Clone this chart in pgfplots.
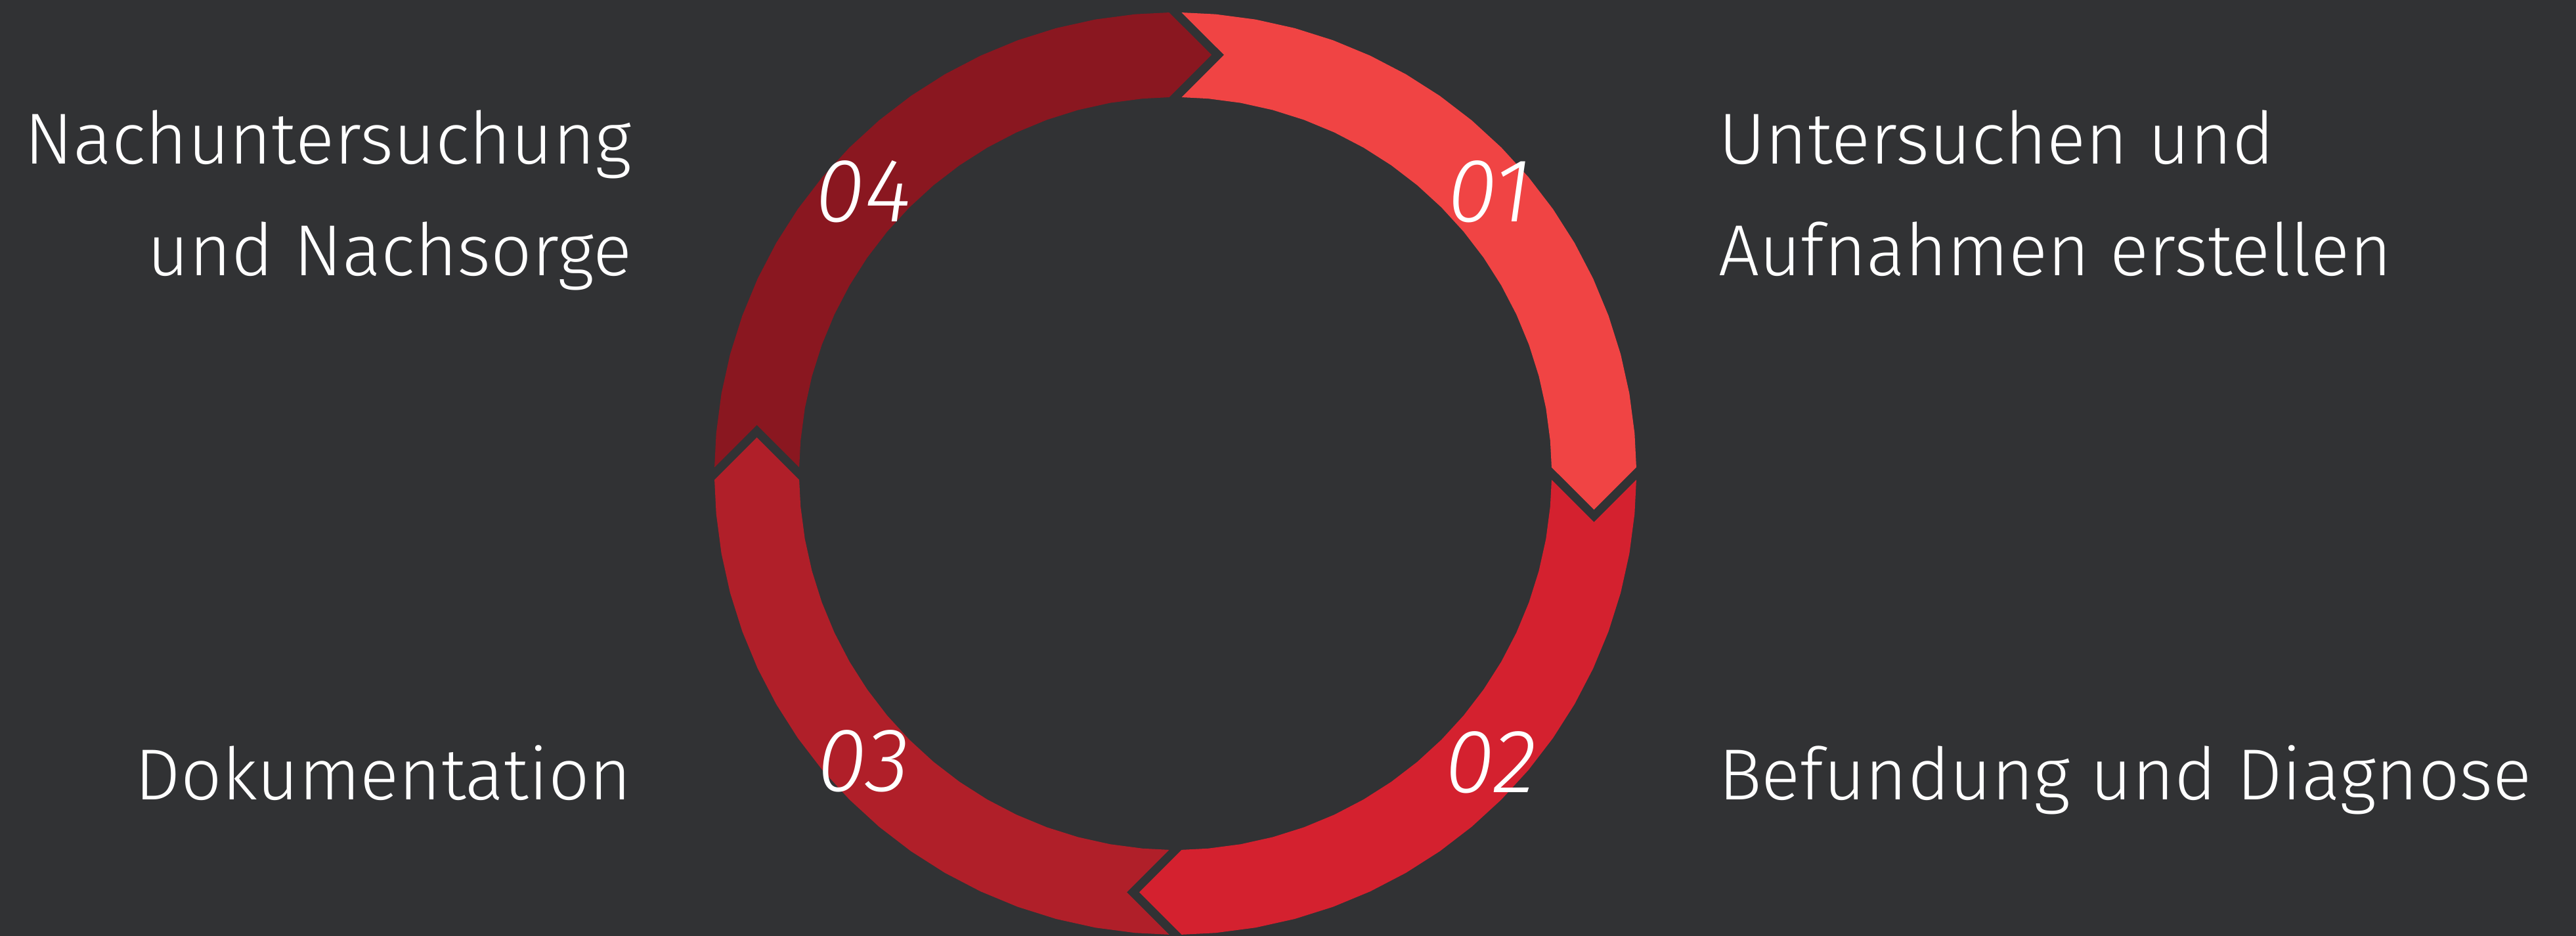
\documentclass[border=0pt]{standalone}
\usepackage{pgfplots}
\usepackage{pgfplotstable}
\pgfplotsset{compat=1.18}
\usepackage{fontspec}
\setmainfont{Fira Sans Light}[ItalicFont={Fira Sans Light Italic}]
\definecolor{bg}{RGB}{49,50,52}
\definecolor{cA}{RGB}{240,68,68}
\definecolor{cB}{RGB}{212,33,47}
\definecolor{cC}{RGB}{176,31,41}
\definecolor{cD}{RGB}{138,23,32}

% one ring segment (step 01: tail at 90 deg, head at 0 deg), polar: angle a, radius r
\pgfplotstableread{
a r
89.225 702
85 702
80 702
75 702
70 702
65 702
60 702
55 702
50 702
45 702
40 702
35 702
30 702
25 702
20 702
15 702
10 702
5 702
0.775 702
-4.931 639.87
0.950 573
5 573
10 573
15 573
20 573
25 573
30 573
35 573
40 573
45 573
50 573
55 573
60 573
65 573
70 573
75 573
80 573
85 573
89.05 573
83.379 641.78
}\seg

\newcommand{\lab}{\fontsize{22bp}{26bp}\selectfont}
\newcommand{\num}{\fontsize{27.5bp}{30bp}\selectfont\itshape}

\begin{document}
\begin{tikzpicture}
\begin{axis}[
  scale only axis, width=784.6bp, height=285bp,
  xmin=-1790, xmax=2133, ymin=-704, ymax=721,
  hide axis, no markers,
]
\addplot[draw=none, fill=bg] coordinates {(-1790,-704) (2133,-704) (2133,721) (-1790,721)};
\addplot[draw=none, fill=cA] table[x expr={\thisrow{r}*cos(\thisrow{a})}, y expr={\thisrow{r}*sin(\thisrow{a})}] {\seg};
\addplot[draw=none, fill=cB] table[x expr={\thisrow{r}*cos(\thisrow{a}-90)}, y expr={\thisrow{r}*sin(\thisrow{a}-90)}] {\seg};
\addplot[draw=none, fill=cC] table[x expr={\thisrow{r}*cos(\thisrow{a}-180)}, y expr={\thisrow{r}*sin(\thisrow{a}-180)}] {\seg};
\addplot[draw=none, fill=cD] table[x expr={\thisrow{r}*cos(\thisrow{a}-270)}, y expr={\thisrow{r}*sin(\thisrow{a}-270)}] {\seg};

\node[anchor=base east, inner sep=0, text=white, font=\lab] at (axis cs:-827,471) {Nachuntersuchung};
\node[anchor=base east, inner sep=0, text=white, font=\lab] at (axis cs:-827,301) {und Nachsorge};
\node[anchor=base east, inner sep=0, text=white, font=\lab] at (axis cs:-827,-497) {Dokumentation};
\node[anchor=base west, inner sep=0, text=white, font=\lab] at (axis cs:826,471) {Untersuchen und};
\node[anchor=base west, inner sep=0, text=white, font=\lab] at (axis cs:826,301) {Aufnahmen erstellen};
\node[anchor=base west, inner sep=0, text=white, font=\lab] at (axis cs:826,-497) {Befundung und Diagnose};

\node[anchor=base, inner sep=0, text=white, font=\num] at (axis cs:478,383) {01};
\node[anchor=base, inner sep=0, text=white, font=\num] at (axis cs:480,-486) {02};
\node[anchor=base, inner sep=0, text=white, font=\num] at (axis cs:-475,-484) {03};
\node[anchor=base, inner sep=0, text=white, font=\num] at (axis cs:-475,383) {04};
\end{axis}
\end{tikzpicture}
\end{document}
